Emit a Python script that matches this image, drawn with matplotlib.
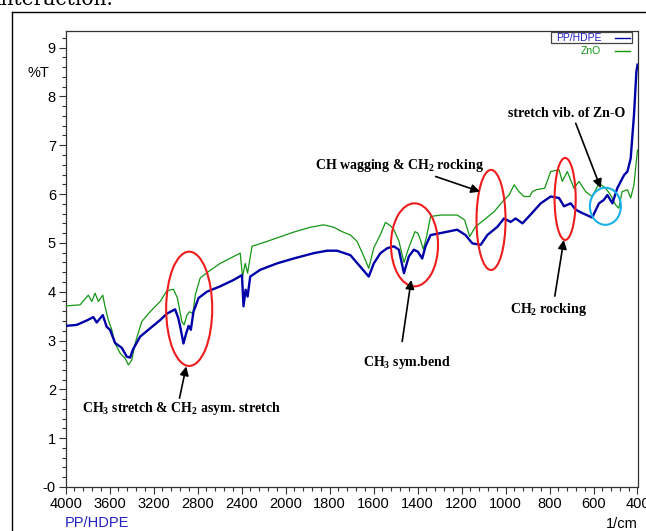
import numpy as np
import matplotlib
matplotlib.use('Agg')
import matplotlib.pyplot as plt
from matplotlib.patches import Ellipse, Rectangle
from matplotlib.lines import Line2D
from matplotlib.ticker import FixedLocator, FixedFormatter

plt.rcParams['font.family'] = ['Liberation Sans', 'DejaVu Sans']
plt.rcParams['mathtext.fontset'] = 'custom'
plt.rcParams['mathtext.rm'] = 'Liberation Serif:bold'
plt.rcParams['mathtext.bf'] = 'Liberation Serif:bold'
plt.rcParams['mathtext.it'] = 'Liberation Serif:bold'

# PP/HDPE spectrum (wavenumber / cm-1, %T)
pp_wn = [4000, 3900, 3809, 3749, 3718, 3663, 3627, 3597, 3551, 3490,
         3444, 3414, 3390, 3323, 3232, 3141, 3080, 3005, 2975, 2953,
         2929, 2904, 2883, 2862, 2838, 2792, 2716, 2595, 2474, 2397,
         2383, 2364, 2346, 2322, 2230, 2078, 1964, 1872, 1811, 1766,
         1706, 1660, 1622, 1599, 1569, 1538, 1508, 1485, 1462, 1440,
         1417, 1399, 1379, 1364, 1341, 1296, 1220, 1182, 1151, 1113,
         1083, 1037, 1007, 977, 954, 923, 886, 840, 795, 757,
         734, 704, 681, 651, 606, 575, 553, 537, 514, 492,
         461, 446, 431, 416, 405, 400]
pp_T = [3.30, 3.32, 3.41, 3.48, 3.37, 3.52, 3.28, 3.22, 2.95, 2.85,
        2.67, 2.65, 2.81, 3.08, 3.25, 3.42, 3.55, 3.64, 3.45, 3.22,
        2.94, 3.15, 3.30, 3.22, 3.59, 3.87, 4.00, 4.11, 4.24, 4.34,
        3.70, 4.04, 3.90, 4.31, 4.45, 4.58, 4.68, 4.79, 4.84, 4.84,
        4.75, 4.51, 4.31, 4.58, 4.79, 4.89, 4.93, 4.86, 4.38, 4.72,
        4.86, 4.82, 4.68, 4.93, 5.16, 5.20, 5.27, 5.16, 4.99, 4.96,
        5.16, 5.33, 5.50, 5.43, 5.50, 5.40, 5.58, 5.81, 5.95, 5.92,
        5.75, 5.81, 5.68, 5.61, 5.52, 5.81, 5.88, 5.98, 5.81, 6.12,
        6.39, 6.46, 6.73, 7.62, 8.51, 8.65]

# ZnO spectrum
zno_wn = [4000, 3870, 3794, 3763, 3733, 3703, 3663, 3642, 3612, 3581,
          3551, 3505, 3460, 3430, 3399, 3369, 3308, 3232, 3141, 3080,
          3020, 2984, 2944, 2923, 2898, 2874, 2843, 2822, 2777, 2716,
          2595, 2413, 2392, 2367, 2346, 2306, 2170, 1964, 1888, 1827,
          1781, 1743, 1705, 1675, 1644, 1622, 1599, 1569, 1546, 1523,
          1508, 1485, 1462, 1440, 1412, 1399, 1390, 1374, 1359, 1341,
          1296, 1220, 1186, 1163, 1137, 1098, 1052, 1007, 984, 961,
          939, 916, 890, 878, 860, 822, 795, 757, 742, 719,
          704, 689, 666, 636, 606, 575, 545, 522, 500, 485,
          470, 446, 431, 416, 404, 400]
zno_T = [3.71, 3.73, 3.93, 3.80, 3.97, 3.80, 3.93, 3.69, 3.42, 3.22,
         2.94, 2.74, 2.64, 2.50, 2.60, 2.94, 3.39, 3.59, 3.80, 4.02,
         4.05, 3.87, 3.39, 3.32, 3.52, 3.59, 3.55, 3.93, 4.28, 4.39,
         4.58, 4.79, 4.31, 4.58, 4.38, 4.93, 5.03, 5.22, 5.32, 5.37,
         5.32, 5.23, 5.16, 5.03, 4.72, 4.48, 4.90, 5.17, 5.42, 5.35,
         5.27, 5.04, 4.60, 4.90, 5.23, 5.20, 5.10, 4.87, 5.13, 5.54,
         5.57, 5.57, 5.47, 5.13, 5.33, 5.47, 5.64, 5.88, 5.98, 6.19,
         6.05, 5.95, 5.95, 6.05, 6.09, 6.12, 6.46, 6.50, 6.26, 6.46,
         6.29, 6.12, 6.26, 6.05, 5.95, 6.22, 6.12, 5.98, 5.78, 5.71,
         6.05, 6.09, 5.92, 6.19, 6.73, 6.90]

x_ticks = [4000, 3600, 3200, 2800, 2400, 2000, 1800, 1600, 1400, 1200, 1000, 800, 600, 400]
y_ticks = [0, 1, 2, 3, 4, 5, 6, 7, 8, 9]
y_labels = ['-0', '1', '2', '3', '4', '5', '6', '7', '8', '9']

blue = '#0000a8'
green = '#139613'
red = '#ee1c1c'
cyan = '#1ab0e8'

W, H = 646, 531


def px(x, y):
    # pixel position (from top-left) -> figure fraction
    return x / W, 1 - y / H


# Shimadzu style axis: 4000-2000 compressed by half
def fwd(x):
    x = np.asarray(x, dtype=float)
    return np.where(x > 2000, 2000 + (x - 2000) / 2, x)


def inv(u):
    u = np.asarray(u, dtype=float)
    return np.where(u > 2000, 2000 + (u - 2000) * 2, u)


fig = plt.figure(figsize=(W / 100, H / 100), dpi=100)
ax = fig.add_axes([65.7 / W, 1 - 487 / H, (637.5 - 65.7) / W, (487 - 31) / H])
ax.set_xscale('function', functions=(fwd, inv))

ax.plot(zno_wn, zno_T, color=green, lw=0.9, zorder=3)
ax.plot(pp_wn, pp_T, color=blue, lw=1.7, zorder=4)

ax.set_xlim(4000, 400)
ax.set_ylim(0, 9.34)

minor_x = list(np.arange(4000, 2000, -80)) + list(np.arange(2000, 399, -40))
ax.xaxis.set_major_locator(FixedLocator(x_ticks))
ax.xaxis.set_major_formatter(FixedFormatter([str(t) for t in x_ticks]))
ax.xaxis.set_minor_locator(FixedLocator(minor_x))
ax.yaxis.set_major_locator(FixedLocator(y_ticks))
ax.yaxis.set_major_formatter(FixedFormatter(y_labels))
ax.yaxis.set_minor_locator(FixedLocator(np.arange(0, 9.31, 0.2)))

ax.tick_params(axis='both', which='major', labelsize=10.5, direction='out', color='#333333', width=0.8)
ax.tick_params(axis='x', which='major', length=5, pad=2)
ax.tick_params(axis='y', which='major', length=5, pad=2)
ax.tick_params(axis='both', which='minor', length=3, direction='out', color='#333333', width=0.8)
for s in ax.spines.values():
    s.set_color('#333333')
    s.set_linewidth(0.9)

# annotations
serif = dict(fontfamily='Liberation Serif', fontweight='bold', fontsize=10, color='black')
ellipses = [
    (2877, 3.65, 419, 2.34, red),
    (1414, 4.96, 214, 1.70, red),
    (1066, 5.47, 132, 2.05, red),
    (729, 5.90, 96, 1.68, red),
    (546, 5.75, 141, 0.76, cyan),
]
for cx, cy, w, h, c in ellipses:
    ax.add_patch(Ellipse((cx, cy), w, h, fill=False, edgecolor=c, lw=1.5, zorder=5))

arrow = dict(arrowstyle='-|>', color='black', lw=1.2, mutation_scale=13, shrinkA=0, shrinkB=0)
ax.annotate('', xy=(2904, 2.47), xytext=(2965, 1.82), arrowprops=arrow, zorder=6)
ax.annotate('', xy=(1429, 4.24), xytext=(1470, 2.98), arrowprops=arrow, zorder=6)
ax.annotate('', xy=(1116, 6.05), xytext=(1318, 6.36), arrowprops=arrow, zorder=6)
ax.annotate('', xy=(567, 6.12), xytext=(681, 7.45), arrowprops=arrow, zorder=6)
ax.annotate('', xy=(735, 5.06), xytext=(776, 3.91), arrowprops=arrow, zorder=6)

ax.text(2950, 1.60, r'CH$_{3}$ stretch & CH$_{2}$ asym. stretch', ha='center', va='center', **serif)
ax.text(1446, 2.56, r'CH$_{3}$ sym.bend', ha='center', va='center', **serif)
ax.text(1482, 6.58, r'CH wagging & CH$_{2}$ rocking', ha='center', va='center', **serif)
ax.text(722, 7.66, 'stretch vib. of Zn-O', ha='center', va='center', **serif)
ax.text(804, 3.63, r'CH$_{2}$ rocking', ha='center', va='center', **serif)

# legend drawn like the instrument software
fig.add_artist(Rectangle(px(551, 43), 81 / W, 11 / H, transform=fig.transFigure,
                         fill=False, edgecolor='#444444', lw=0.9))
fig.text(*px(556, 38), 'PP/HDPE', color='#2020c0', fontsize=7.5, ha='left', va='center')
fig.text(*px(601, 51), 'ZnO', color=green, fontsize=7.5, ha='right', va='center')
fig.add_artist(Line2D([615 / W, 630 / W], [1 - 38 / H] * 2, color=blue, lw=1.0))
fig.add_artist(Line2D([615 / W, 630 / W], [1 - 51 / H] * 2, color=green, lw=1.0))

fig.text(*px(38, 73), '%T', fontsize=10.5, ha='center', va='center')
fig.text(*px(65, 523), 'PP/HDPE', color='#2020c0', fontsize=10.5, ha='left', va='center')
fig.text(*px(638, 524), '1/cm', fontsize=10.5, ha='right', va='center')

# page frame and cut-off text from the page above
fig.add_artist(Line2D([12 / W, 12 / W], [1 - 12 / H, 0], color='black', lw=1.0))
fig.add_artist(Line2D([12 / W, 1], [1 - 12 / H] * 2, color='black', lw=1.0))
fig.text(*px(-6, 5), 'interaction.', fontfamily='DejaVu Serif', fontsize=14.5,
         ha='left', va='baseline')

fig.savefig('out.png', dpi=100)
